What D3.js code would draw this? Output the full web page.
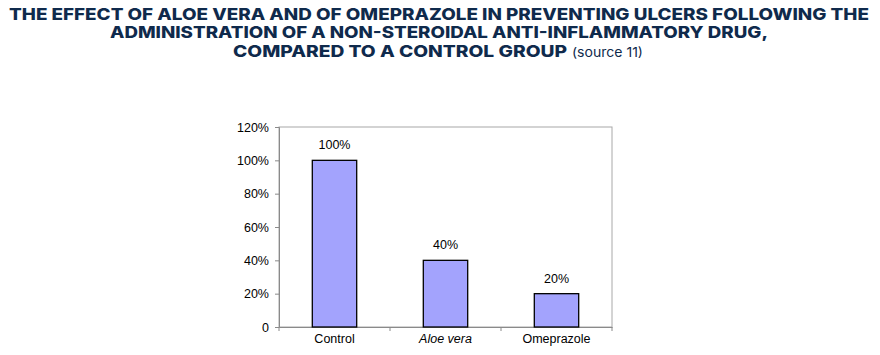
<!DOCTYPE html>
<html><head><meta charset="utf-8">
<script src="https://cdn.jsdelivr.net/npm/d3@7"></script>
<style>body{margin:0;background:#fff}</style>
</head><body>
<svg id="c" width="880" height="355"></svg>
<script>
const categories = ["Control", "Aloe vera", "Omeprazole"];
const values = [100, 40, 20];
const valueLabels = ["100%", "40%", "20%"];
const yTicks = [0, 20, 40, 60, 80, 100, 120];
const yTickLabels = ["0", "20%", "40%", "60%", "80%", "100%", "120%"];
const italicCats = ["Aloe vera"];
const titleLines = [
  "THE EFFECT OF ALOE VERA AND OF OMEPRAZOLE IN PREVENTING ULCERS FOLLOWING THE",
  "ADMINISTRATION OF A NON-STEROIDAL ANTI-INFLAMMATORY DRUG,",
  "COMPARED TO A CONTROL GROUP"
];
const sourceNote = "(source 11)";

const svg = d3.select("#c");
const navy = "#0f2a4c";
const tf = "Inter, 'Open Sans', sans-serif";

// Title
svg.append("text").attr("x", 9).attr("y", 20).attr("font-family", tf).attr("font-weight", 800)
  .attr("font-size", 16).attr("fill", navy).attr("textLength", 860).attr("lengthAdjust", "spacingAndGlyphs")
  .text(titleLines[0]);
svg.append("text").attr("x", 110).attr("y", 38).attr("font-family", tf).attr("font-weight", 800)
  .attr("font-size", 16).attr("fill", navy).attr("textLength", 658).attr("lengthAdjust", "spacingAndGlyphs")
  .text(titleLines[1]);
svg.append("text").attr("x", 233).attr("y", 57).attr("font-family", tf).attr("font-weight", 800)
  .attr("font-size", 16).attr("fill", navy).attr("textLength", 334).attr("lengthAdjust", "spacingAndGlyphs")
  .text(titleLines[2]);
svg.append("text").attr("x", 572).attr("y", 57).attr("font-family", tf).attr("font-weight", 400)
  .attr("font-size", 13).attr("fill", navy).attr("textLength", 71).attr("lengthAdjust", "spacingAndGlyphs")
  .text(sourceNote);

// Plot
const L = 279, R = 612, T = 127, B = 327;
const x = d3.scaleBand().domain(categories).range([L, R]).paddingInner(0.6).paddingOuter(0.3);
const y = d3.scaleLinear().domain([0, 120]).range([B, T]);
const af = "'Liberation Sans', Arial, sans-serif";
const grey = "#8a8a8a";

// frame
svg.append("rect").attr("x", L).attr("y", T).attr("width", R - L).attr("height", B - T)
  .attr("fill", "none").attr("stroke", "#a8a8a8").attr("stroke-width", 1);

// y axis
const ya = svg.append("g").attr("transform", `translate(${L},0)`)
  .call(d3.axisLeft(y).tickValues(yTicks).tickSize(4).tickPadding(6)
    .tickFormat((d, i) => yTickLabels[i]));
ya.select(".domain").attr("stroke", grey);
ya.selectAll(".tick line").attr("stroke", grey);
ya.selectAll("text").attr("font-family", af).attr("font-size", 12.5).attr("fill", "#000");

// x axis
const xa = svg.append("g").attr("transform", `translate(0,${B})`)
  .call(d3.axisBottom(x).tickSize(0).tickPadding(7));
xa.select(".domain").attr("stroke", grey);
xa.selectAll("text").attr("font-family", af).attr("font-size", 12.5).attr("fill", "#000")
  .attr("font-style", d => italicCats.includes(d) ? "italic" : "normal");
// boundary ticks
const bounds = d3.range(categories.length + 1).map(i => L + i * (R - L) / categories.length);
svg.append("g").selectAll("line").data(bounds).join("line")
  .attr("x1", d => d).attr("x2", d => d).attr("y1", B).attr("y2", B + 4).attr("stroke", grey);

// bars
svg.append("g").selectAll("rect").data(values).join("rect")
  .attr("x", (d, i) => x(categories[i])).attr("width", x.bandwidth())
  .attr("y", d => y(d)).attr("height", d => B - y(d))
  .attr("fill", "#a3a3fd").attr("stroke", "#000").attr("stroke-width", 1.3);

// value labels
svg.append("g").selectAll("text").data(values).join("text")
  .attr("x", (d, i) => x(categories[i]) + x.bandwidth() / 2)
  .attr("y", d => y(d) - 11).attr("text-anchor", "middle")
  .attr("font-family", af).attr("font-size", 12.5).attr("fill", "#000")
  .text((d, i) => valueLabels[i]);
</script>
</body></html>
